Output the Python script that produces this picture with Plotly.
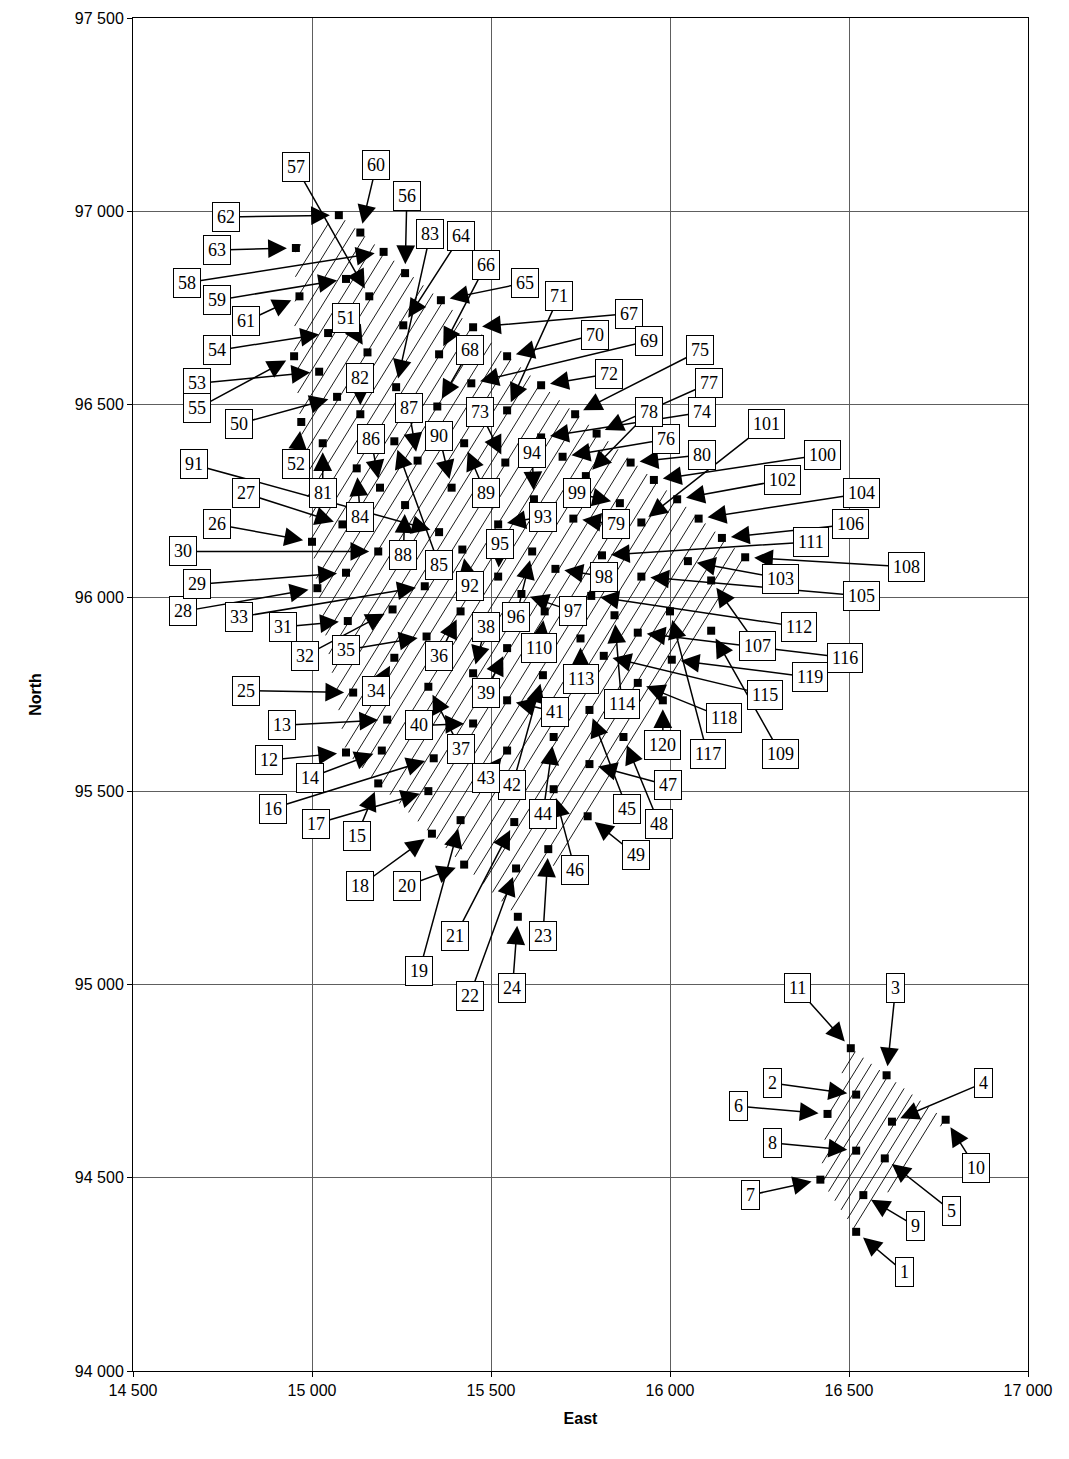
import math
import plotly.graph_objects as go

# ---------------- data ----------------
point_id = list(range(1, 121))

east = [16520, 16520, 16605, 16620, 16600, 16440, 16420, 16520, 16540, 16770,
        16505, 15095, 15210, 15195, 15185, 15340, 15325, 15335, 15415, 15425,
        15565, 15570, 15660, 15575, 15115, 15000, 15085, 15015, 15095, 15185,
        15100, 15225, 15315, 15230, 15320, 15415, 15325, 15450, 15545, 15450,
        15545, 15645, 15545, 15675, 15775, 15675, 15775, 15870, 15770, 15070,
        15155, 14970, 15020, 15045, 14950, 15260, 15160, 15200, 15095, 15135,
        14965, 15075, 14955, 15255, 15360, 15355, 15450, 15350, 15445, 15545,
        15545, 15640, 15540, 15640, 15735, 15700, 15795, 15765, 15730, 15890,
        15030, 15135, 15235, 15125, 15230, 15190, 15295, 15260, 15425, 15390,
        15355, 15420, 15520, 15620, 15520, 15615, 15585, 15680, 15860, 15955,
        15920, 16020, 16050, 16080, 15920, 16145, 16115, 16210, 16115, 15650,
        15810, 15780, 15750, 15845, 15815, 15910, 16000, 15910, 16005, 15980]

north = [94360, 94715, 94765, 94645, 94550, 94665, 94495, 94570, 94455, 94650,
         94835, 95600, 95685, 95605, 95520, 95585, 95500, 95390, 95425, 95310,
         95420, 95300, 95350, 95175, 95755, 96145, 96190, 96025, 96065, 96120,
         95940, 95970, 96030, 95845, 95900, 95965, 95770, 95805, 95870, 95675,
         95735, 95800, 95605, 95640, 95710, 95505, 95570, 95640, 95435, 96520,
         96635, 96455, 96585, 96685, 96625, 96840, 96780, 96895, 96825, 96945,
         96780, 96990, 96905, 96705, 96770, 96630, 96700, 96495, 96555, 96625,
         96485, 96550, 96350, 96415, 96475, 96365, 96425, 96315, 96205, 96350,
         96400, 96475, 96545, 96335, 96405, 96285, 96355, 96240, 96400, 96285,
         96170, 96125, 96190, 96255, 96055, 96120, 96010, 96075, 96245, 96305,
         96195, 96255, 96095, 96205, 96055, 96155, 96045, 96105, 95915, 95965,
         96110, 96005, 95895, 95955, 95850, 95910, 95965, 95780, 95840, 95735]

# points belonging to the separate south-east group
south_group = list(range(1, 12))

# label (callout) anchor positions, in East / North units
label_east = [16655, 16285, 16630, 16875, 16785, 16190, 16225, 16285, 16685, 16855,
              16355, 14880, 14915, 14995, 15125, 14890, 15010, 15135, 15300, 15265,
              15400, 15440, 15645, 15560, 14815, 14735, 14815, 14640, 14680, 14640,
              14920, 14980, 14795, 15180, 15095, 15355, 15415, 15485, 15485, 15300,
              15680, 15560, 15485, 15645, 15880, 15735, 15995, 15970, 15905, 14795,
              15095, 14955, 14680, 14735, 14680, 15265, 14955, 14650, 14735, 15180,
              14815, 14760, 14735, 15415, 15595, 15485, 15885, 15440, 15940, 15790,
              15690, 15830, 15470, 16090, 16085, 15990, 16110, 15940, 15850, 16090,
              15030, 15135, 15330, 15135, 15355, 15165, 15270, 15255, 15485, 15355,
              14670, 15440, 15645, 15615, 15525, 15570, 15730, 15815, 15740, 16425,
              16270, 16315, 16310, 16535, 16535, 16505, 16245, 16660, 16310, 15635,
              16395, 16360, 15750, 15865, 16265, 16490, 16105, 16150, 16390, 15980]

label_north = [94255, 94745, 94990, 94745, 94415, 94685, 94455, 94590, 94375, 94525,
               94990, 95580, 95670, 95535, 95385, 95455, 95415, 95255, 95035, 95255,
               95125, 94970, 95125, 94990, 95760, 96190, 96270, 95965, 96035, 96120,
               95925, 95850, 95950, 95760, 95865, 95850, 95610, 95925, 95755, 95670,
               95705, 95515, 95535, 95440, 95455, 95295, 95515, 95415, 95335, 96450,
               96725, 96345, 96555, 96640, 96490, 97040, 97115, 96815, 96770, 97120,
               96715, 96985, 96900, 96935, 96815, 96860, 96735, 96640, 96665, 96680,
               96780, 96580, 96480, 96480, 96640, 96410, 96555, 96480, 96190, 96370,
               96270, 96570, 96940, 96210, 96085, 96410, 96490, 96110, 96270, 96420,
               96345, 96030, 96210, 96375, 96140, 95950, 95965, 96055, 96270, 96370,
               96450, 96305, 96050, 96270, 96005, 96190, 95875, 96080, 95595, 95870,
               96145, 95925, 95790, 95725, 95750, 95845, 95595, 95690, 95795, 95620]

x_ticks = [14500, 15000, 15500, 16000, 16500, 17000]
y_ticks = [94000, 94500, 95000, 95500, 96000, 96500, 97000, 97500]


# ---------------- helpers ----------------
def convex_hull(pts):
    pts = sorted(set(pts))

    def cross(o, a, b):
        return (a[0] - o[0]) * (b[1] - o[1]) - (a[1] - o[1]) * (b[0] - o[0])

    lower, upper = [], []
    for p in pts:
        while len(lower) >= 2 and cross(lower[-2], lower[-1], p) <= 0:
            lower.pop()
        lower.append(p)
    for p in reversed(pts):
        while len(upper) >= 2 and cross(upper[-2], upper[-1], p) <= 0:
            upper.pop()
        upper.append(p)
    return lower[:-1] + upper[:-1]


def hatch(poly, slope, step):
    vals = [n - slope * e for e, n in poly]
    xs, ys = [], []
    c = math.ceil(min(vals) / step) * step
    while c < max(vals):
        inter = []
        for i in range(len(poly)):
            e1, n1 = poly[i]
            e2, n2 = poly[(i + 1) % len(poly)]
            f1 = n1 - slope * e1 - c
            f2 = n2 - slope * e2 - c
            if (f1 > 0) != (f2 > 0):
                t = f1 / (f1 - f2)
                inter.append((e1 + t * (e2 - e1), n1 + t * (n2 - n1)))
        if len(inter) >= 2:
            inter.sort()
            xs += [inter[0][0], inter[-1][0], None]
            ys += [inter[0][1], inter[-1][1], None]
        c += step
    return xs, ys


fig = go.Figure()

# hatched areas around the two groups
groups = [
    ([i for i in point_id if i in south_group], 50),
    ([i for i in point_id if i not in south_group], 62),
]
for ids, step in groups:
    pts = [(east[i - 1], north[i - 1]) for i in ids]
    hull = convex_hull(pts)
    hx, hy = hatch(hull, 1.5, step)
    fig.add_trace(go.Scatter(x=hx, y=hy, mode="lines",
                             line=dict(color="black", width=0.9),
                             hoverinfo="skip", showlegend=False))

fig.add_trace(go.Scatter(x=east, y=north, mode="markers",
                         marker=dict(symbol="square", size=8, color="black"),
                         text=[str(i) for i in point_id],
                         showlegend=False))

annotations = []
# arrows first (drawn under every label box)
for i, e, n, le, ln in zip(point_id, east, north, label_east, label_north):
    annotations.append(dict(
        x=e, y=n, xref="x", yref="y",
        ax=le, ay=ln, axref="x", ayref="y",
        text="", showarrow=True,
        arrowhead=2, arrowsize=2.5, arrowwidth=1.5, arrowcolor="black",
        standoff=9,
    ))
# then label boxes
for i, le, ln in zip(point_id, label_east, label_north):
    annotations.append(dict(
        x=le, y=ln, xref="x", yref="y",
        text=str(i), showarrow=False,
        font=dict(family="Liberation Serif, Times New Roman, serif", size=18, color="black"),
        bgcolor="white", bordercolor="black", borderwidth=1, borderpad=4,
    ))

fig.update_layout(
    width=1069, height=1459, autosize=False,
    margin=dict(l=125, r=49, t=10, b=96, autoexpand=False),
    paper_bgcolor="white", plot_bgcolor="white",
    separators=". ",
    annotations=annotations,
    font=dict(family="Liberation Sans, Arial, sans-serif", size=16, color="black"),
)
fig.update_xaxes(
    range=[14500, 17000], tickvals=x_ticks, tickformat=",d",
    showgrid=True, gridcolor="#5e5e5e", gridwidth=1,
    showline=True, linecolor="black", linewidth=1, mirror=True,
    ticks="outside", ticklen=5, tickcolor="black", zeroline=False,
    automargin=False,
    title=dict(text="<b>East</b>", font=dict(size=16), standoff=14),
)
fig.update_yaxes(
    range=[94000, 97500], tickvals=y_ticks, tickformat=",d",
    showgrid=True, gridcolor="#5e5e5e", gridwidth=1,
    showline=True, linecolor="black", linewidth=1, mirror=True,
    ticks="outside", ticklen=5, tickcolor="black", zeroline=False,
    automargin=False,
    title=dict(text="<b>North</b>", font=dict(size=16), standoff=29),
)

fig.write_html("out.html")
